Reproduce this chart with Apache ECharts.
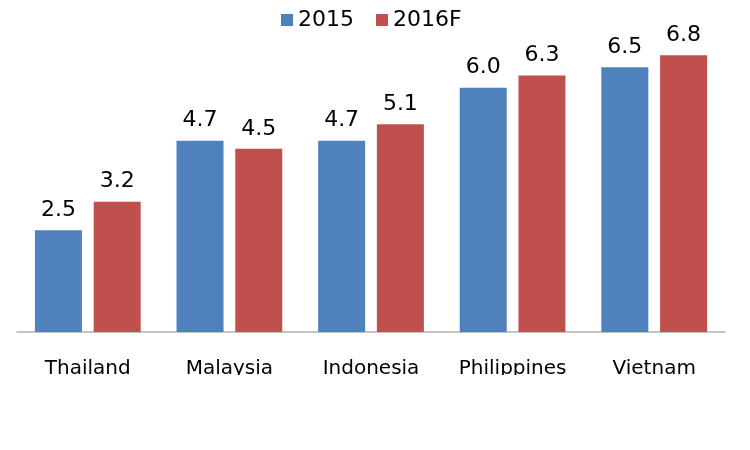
<!DOCTYPE html>
<html>
<head>
<meta charset="utf-8">
<script src="https://cdn.jsdelivr.net/npm/echarts@6/dist/echarts.min.js"></script>
<style>html,body{margin:0;padding:0;background:#fff}#c{width:750px;height:450px}</style>
</head>
<body>
<div id="c"></div>
<script>
var categories = ['Thailand', 'Malaysia', 'Indonesia', 'Philippines', 'Vietnam'];
var values2015 = [2.5, 4.7, 4.7, 6.0, 6.5];
var values2016F = [3.2, 4.5, 5.1, 6.3, 6.8];
var seriesNames = ['2015', '2016F'];

var chart = echarts.init(document.getElementById('c'));
var font = 'DejaVu Sans';
var labelStyle = {show: true, position: 'top', distance: 9, fontFamily: font, fontSize: 22, color: '#000',
  formatter: function (p) { return p.value.toFixed(1); }};
chart.setOption({
  animation: false,
  color: ['#4F81BD', '#C0504D'],
  legend: {
    data: seriesNames, top: 4, left: 276, itemWidth: 12, itemHeight: 12, itemGap: 22,
    icon: 'rect',
    textStyle: {fontFamily: font, fontSize: 22, color: '#000'}
  },
  grid: {left: 17, right: 25, top: 47, bottom: 118},
  xAxis: {
    type: 'category', data: categories,
    axisLine: {lineStyle: {color: '#B3B3B3', width: 1.5}},
    axisTick: {show: false},
    axisLabel: {fontFamily: font, fontSize: 20, color: '#000', margin: 27}
  },
  yAxis: {type: 'value', min: 0, max: 7, show: false, splitLine: {show: false}},
  series: [
    {name: seriesNames[0], type: 'bar', data: values2015, barWidth: 47, barGap: '25%', label: labelStyle},
    {name: seriesNames[1], type: 'bar', data: values2016F, barWidth: 47, barGap: '25%', label: labelStyle}
  ],
  graphic: [{type: 'rect', shape: {x: 0, y: 375, width: 750, height: 75}, style: {fill: '#fff'}, z: 100}]
});
</script>
</body>
</html>
